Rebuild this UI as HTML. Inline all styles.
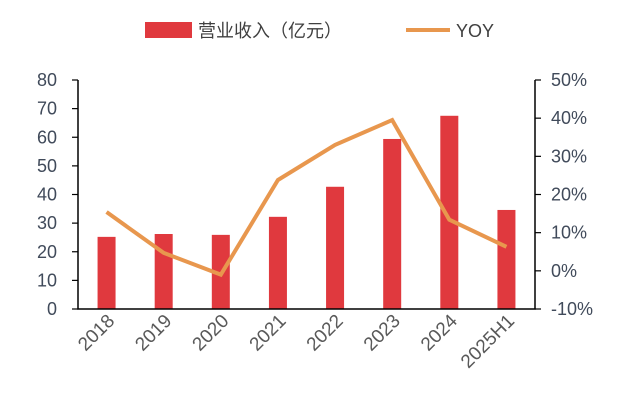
<!DOCTYPE html>
<html><head><meta charset="utf-8"><style>
body{margin:0;background:#fff}
svg{display:block;font-family:"Liberation Sans","Noto Sans CJK SC",sans-serif}
</style></head><body>
<svg id="c" width="618" height="404">
<g>
<rect x="145" y="22" width="47" height="16" fill="#E0393E"/>
<text x="198" y="37" font-size="18" fill="#404040">营业收入（亿元）</text>
<line x1="406" y1="30" x2="450" y2="30" stroke="#E8974E" stroke-width="4"/>
<text x="456" y="37" font-size="18" fill="#404040">YOY</text>
</g>
</svg>
<script>
const categories=["2018","2019","2020","2021","2022","2023","2024","2025H1"];
const revenue=[25.2,26.2,25.9,32.2,42.7,59.4,67.5,34.6];
const yoy=[15.4,4.7,-1.0,23.8,33.0,39.5,13.4,6.3];
const leftTicks=[0,10,20,30,40,50,60,70,80];
const rightTicks=[-10,0,10,20,30,40,50];
const NS="http://www.w3.org/2000/svg",svg=document.getElementById('c');
const X0=78,X1=535,Y0=309,Y1=80;
const step=(X1-X0)/categories.length;
const xc=i=>X0+step*(i+0.5);
const yL=v=>Y0-(v/80)*(Y0-Y1);
const yR=v=>Y0-((v+10)/60)*(Y0-Y1);
function el(t,a,p){const e=document.createElementNS(NS,t);for(const k in a)e.setAttribute(k,a[k]);(p||svg).appendChild(e);return e;}
revenue.forEach((v,i)=>{const r=el('rect',{x:xc(i)-9,y:yL(v),width:18,height:Y0-yL(v),fill:'#E0393E'});

});
let ax=el('path',{d:`M${X0},${Y1}V${Y0}H${X1}V${Y1}`,fill:'none',stroke:'#000','stroke-width':1.5});


leftTicks.forEach(v=>{const y=yL(v);el('line',{x1:X0-6,x2:X0,y1:y,y2:y,stroke:'#000','stroke-width':1.2});
const t=el('text',{x:57,y:y+6,'text-anchor':'end','font-size':18,fill:'#404A5A'});t.textContent=v;

});
rightTicks.forEach(v=>{const y=yR(v);el('line',{x1:X1,x2:X1+6,y1:y,y2:y,stroke:'#000','stroke-width':1.2});
const t=el('text',{x:551,y:y+6,'font-size':18,fill:'#404A5A'});t.textContent=v+'%';

});
categories.forEach((c,i)=>{const x=xc(i)+9,y=322;const t=el('text',{x:x,y:y,'text-anchor':'end','font-size':19,fill:'#595959',transform:`rotate(-45 ${x} ${y})`});t.textContent=c;

});
const ln=el('polyline',{points:yoy.map((v,i)=>xc(i)+','+yR(v)).join(' '),fill:'none',stroke:'#E8974E','stroke-width':4,'stroke-linejoin':'miter'});


</script>
</body></html>
